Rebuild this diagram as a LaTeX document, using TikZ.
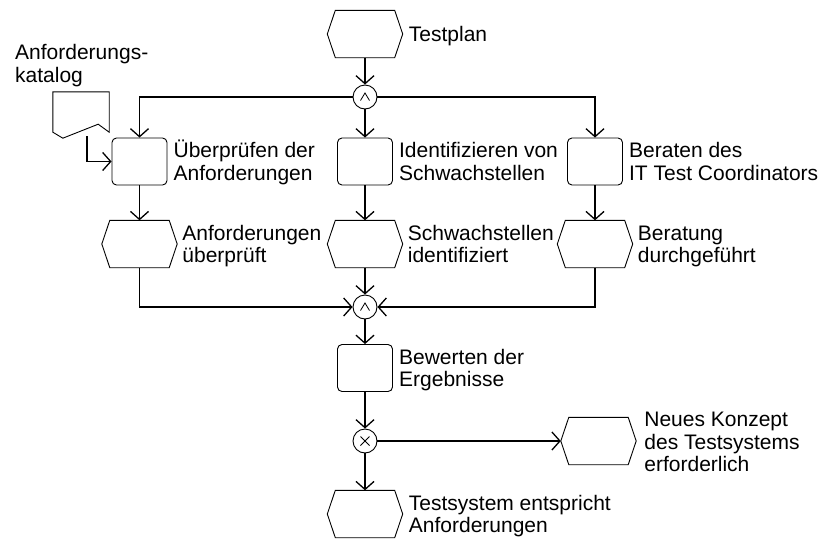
\documentclass[tikz,border=0pt]{standalone}
\usepackage{fontspec}
\setmainfont{Liberation Sans}
\usetikzlibrary{arrows.meta}

% outline of an event: a flat hexagon inside the node's rectangle
\newcommand\evtoutline[1]{%
  \draw[shapeline] ([xshift=8pt]#1.north west) -- ([xshift=-8pt]#1.north east)
    -- (#1.east) -- ([xshift=-8pt]#1.south east) -- ([xshift=8pt]#1.south west)
    -- (#1.west) -- cycle;}
% logical AND sign inside a connector circle
\newcommand\andsign[1]{%
  \draw[thinline] ([shift={(-4.5,3.5)}]#1.center) -- ([shift={(0,-4)}]#1.center)
    -- ([shift={(4.5,3.5)}]#1.center);}
% exclusive OR sign inside a connector circle
\newcommand\xorsign[1]{%
  \draw[thinline] ([shift={(-4.5,-4.5)}]#1.center) -- ([shift={(4.5,4.5)}]#1.center);
  \draw[thinline] ([shift={(-4.5,4.5)}]#1.center) -- ([shift={(4.5,-4.5)}]#1.center);}

\begin{document}
\begin{tikzpicture}[x=1pt,y=-1pt,
  shapeline/.style={line width=0.9pt},
  thinline/.style={line width=0.8pt},
  func/.style={draw, shapeline, rounded corners=4.5pt, minimum width=55pt,
    minimum height=47pt, inner sep=0pt},
  evt/.style={minimum width=75pt, minimum height=47pt, inner sep=0pt},
  conn/.style={circle, draw, shapeline, minimum size=24pt, inner sep=0pt},
  % text blocks are placed by the baseline of their last line
  txt/.style={anchor=base west, align=left, inner sep=0pt,
    font=\fontsize{21}{22.5}\selectfont},
  flow/.style={line width=1.3pt, -{Straight Barb[length=8pt,width=18pt]}},
  ]
\useasboundingbox (0,0) rectangle (823,539);

% document: requirements catalogue
\node[minimum width=56pt, minimum height=46pt, inner sep=0pt] (doc) at (81,115) {};
\draw[shapeline] (doc.north west) -- (doc.north east)
  -- ([shift={(0,-6)}]doc.south east) -- ([shift={(-11,-14)}]doc.south east)
  -- ([shift={(10,0)}]doc.south west) -- ([shift={(0,-6)}]doc.south west) -- cycle;
\coordinate (docout) at (87,136);
\node[txt] (docT) at (15,82) {Anforderungs-\\katalog};

% start event
\node[evt] (plan) at (365,34) {};
\evtoutline{plan}
\node[txt] (planT) at ([shift={(6,7.5)}]plan.east) {Testplan};

% split
\node[conn] (and1) at (365,97) {};
\andsign{and1}

% parallel functions
\node[func] (f1) at (139.5,161.5) {};
\node[func] (f2) at (365,161.5) {};
\node[func] (f3) at (595,161.5) {};
\node[txt] (f1T) at ([shift={(6,18.5)}]f1.east) {Überprüfen der\\Anforderungen};
\node[txt] (f2T) at ([shift={(6,18.5)}]f2.east) {Identifizieren von\\Schwachstellen};
\node[txt] (f3T) at ([shift={(6,18.5)}]f3.east) {Beraten des\\IT Test Coordinators};

% resulting events
\node[evt] (e1) at (139.5,244) {};
\node[evt] (e2) at (365,244) {};
\node[evt] (e3) at (595,244) {};
\evtoutline{e1}
\evtoutline{e2}
\evtoutline{e3}
\node[txt] (e1T) at ([shift={(5,18.5)}]e1.east) {Anforderungen\\überprüft};
\node[txt] (e2T) at ([shift={(5,18.5)}]e2.east) {Schwachstellen\\identifiziert};
\node[txt] (e3T) at ([shift={(5,18.5)}]e3.east) {Beratung\\durchgeführt};

% join
\node[conn] (and2) at (365,307) {};
\andsign{and2}

% evaluation
\node[func] (f4) at (365,368) {};
\node[txt] (f4T) at ([shift={(6,18.5)}]f4.east) {Bewerten der\\Ergebnisse};

% decision
\node[conn] (xor) at (365,441) {};
\xorsign{xor}

% end events
\node[evt] (e4) at (598.5,441) {};
\evtoutline{e4}
\node[txt] (e4T) at ([shift={(8,30.5)}]e4.east) {Neues Konzept\\des Testsystems\\erforderlich};
\node[evt] (e5) at (365,514) {};
\evtoutline{e5}
\node[txt] (e5T) at ([shift={(6,18.5)}]e5.east) {Testsystem entspricht\\Anforderungen};

% control flow
\draw[flow] (plan) -- (and1);
\draw[flow] (and1) -| (f1);
\draw[flow] (and1) -- (f2);
\draw[flow] (and1) -| (f3);
\draw[flow] (docout) |- (f1);
\draw[flow] (f1) -- (e1);
\draw[flow] (f2) -- (e2);
\draw[flow] (f3) -- (e3);
\draw[flow] (e1) |- (and2);
\draw[flow] (e2) -- (and2);
\draw[flow] (e3) |- (and2);
\draw[flow] (and2) -- (f4);
\draw[flow] (f4) -- (xor);
\draw[flow] (xor) -- (e4);
\draw[flow] (xor) -- (e5);
\end{tikzpicture}
\end{document}
